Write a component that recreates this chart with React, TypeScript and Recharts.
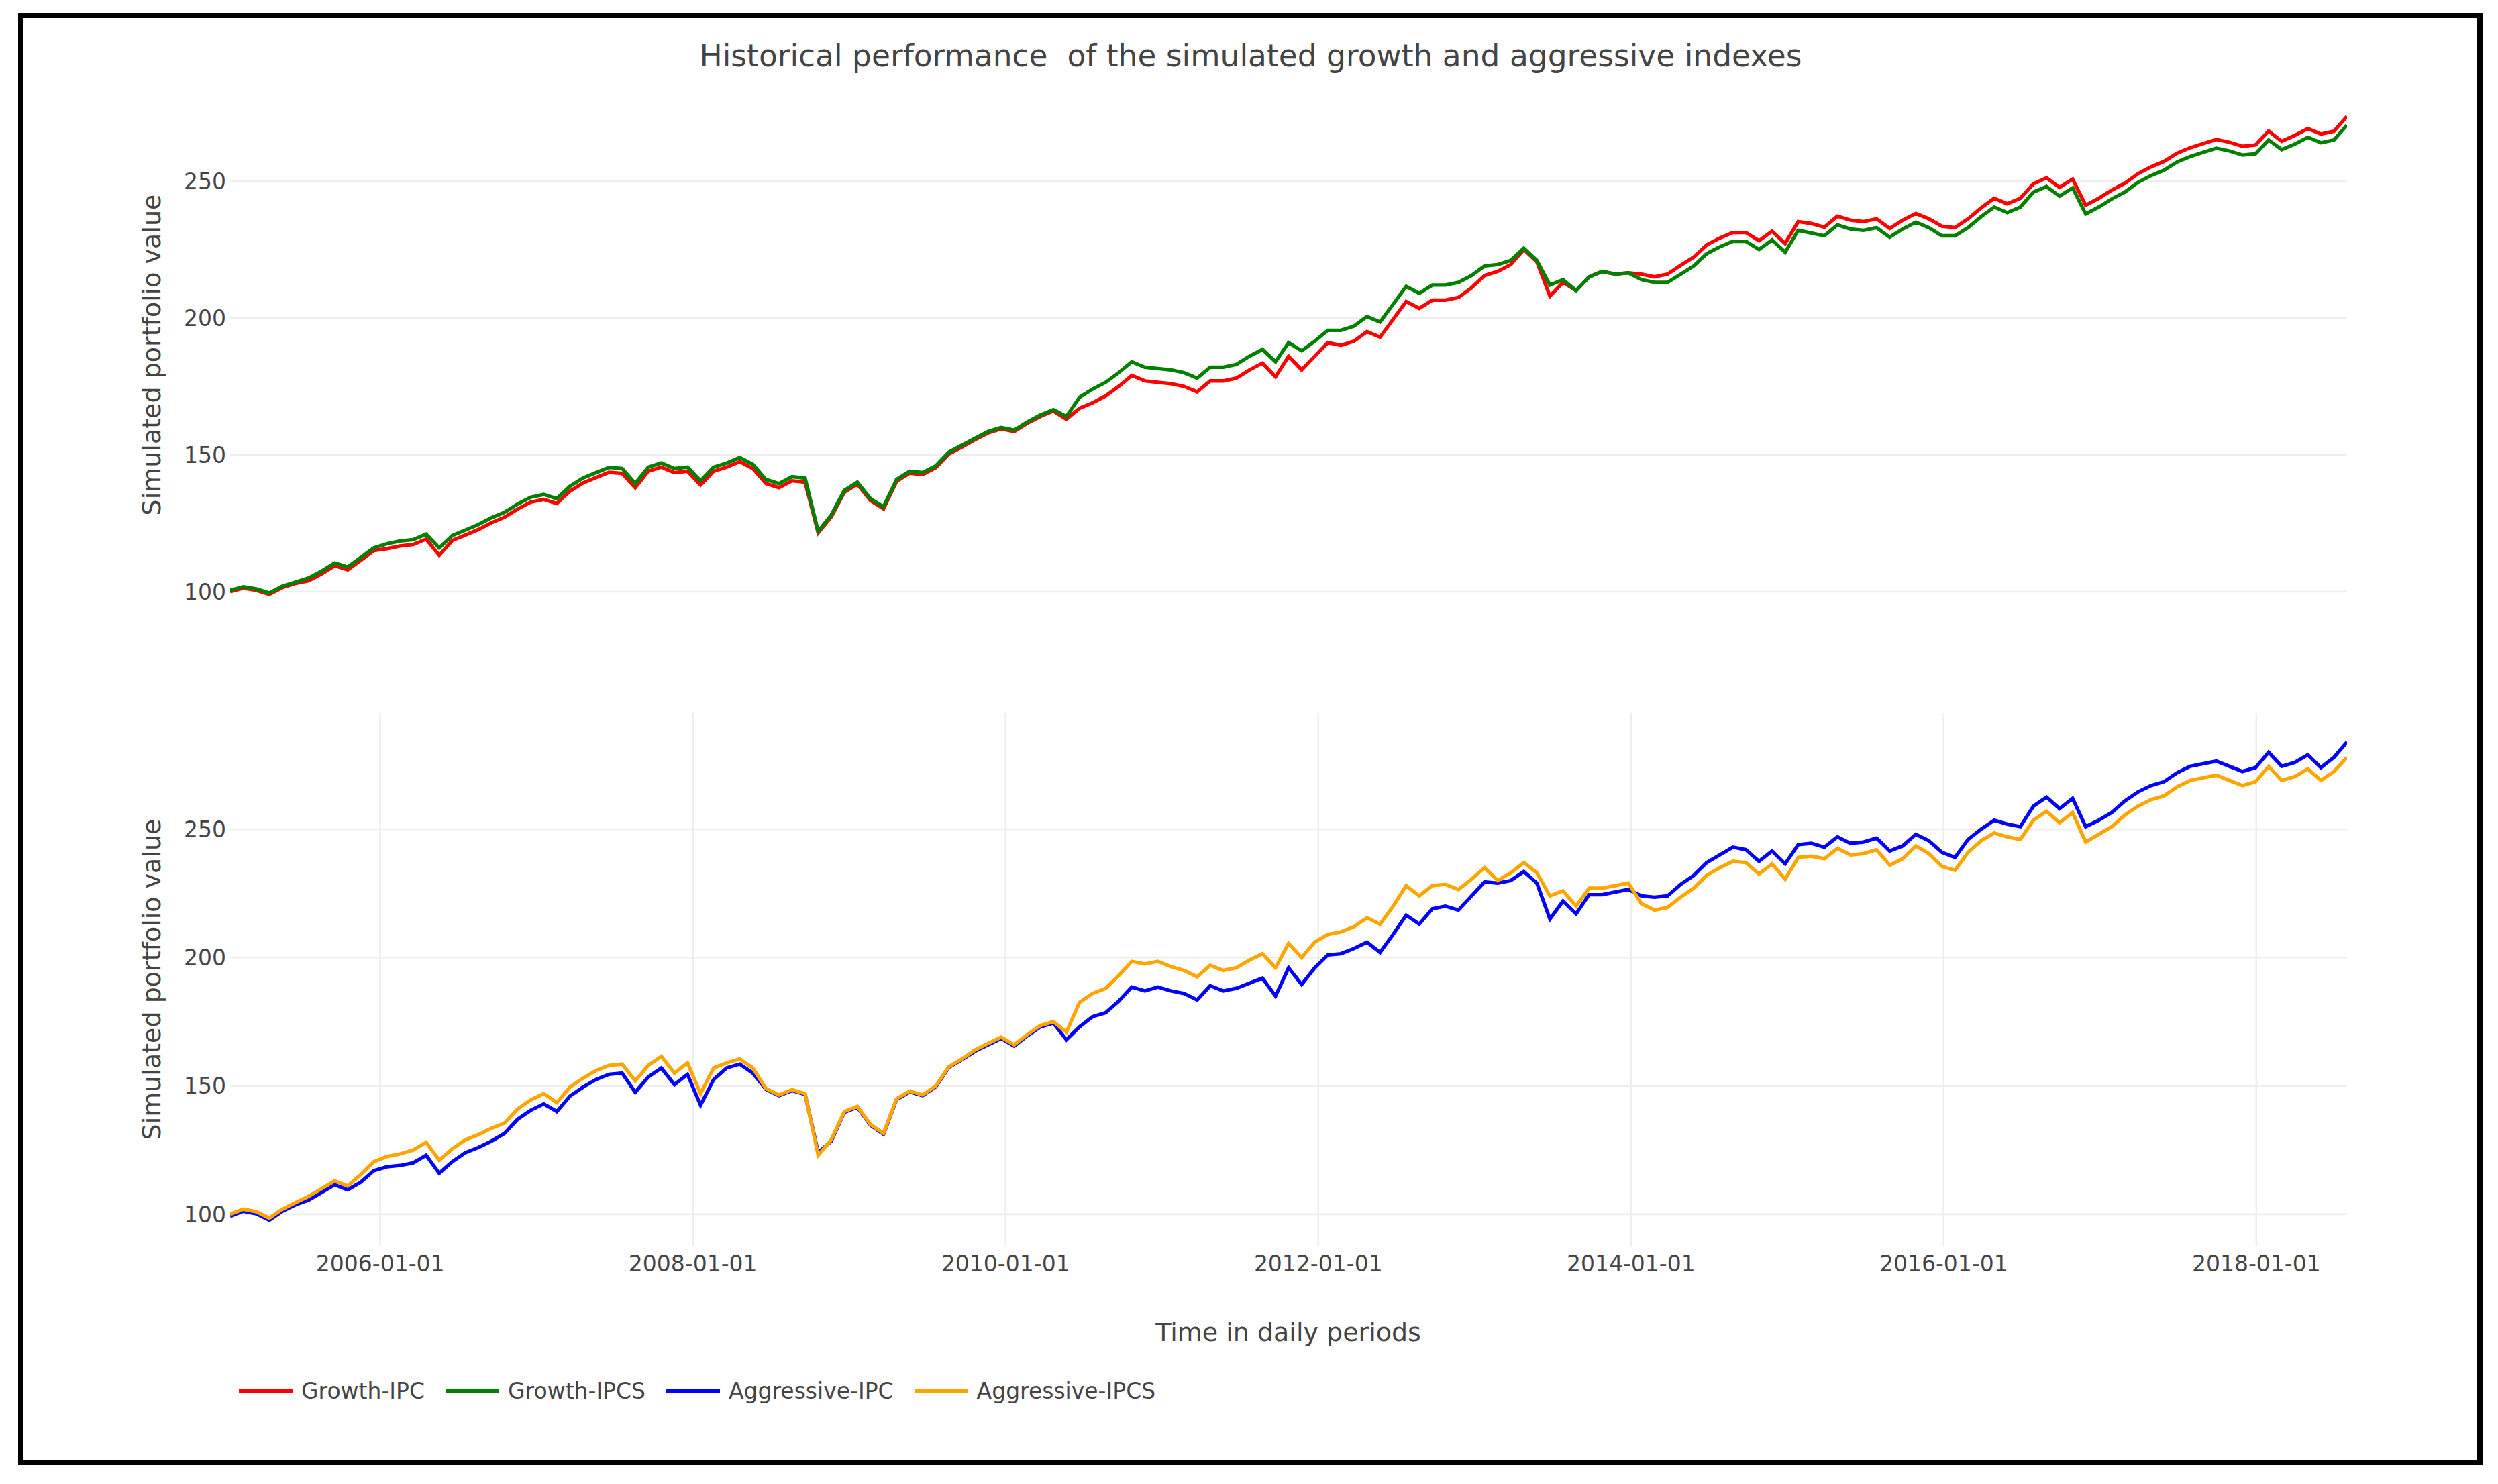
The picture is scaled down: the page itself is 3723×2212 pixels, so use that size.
import { LineChart, Line, XAxis, YAxis, CartesianGrid } from "recharts";

const FONT = "'DejaVu Sans', Verdana, sans-serif";
const TEXT = "#444";
const GRID = "#eeeeee";

// decimal years: 2005-01-15 .. 2018-07-31
const START = 2005.04;
const END = 2018.58;
const YEAR_TICKS = [2006, 2008, 2010, 2012, 2014, 2016, 2018];
const VALUE_TICKS = [100, 150, 200, 250];

// roughly monthly readings
const GROWTH_IPC = [
  100, 101.3, 100.5, 99, 101.5, 103, 104, 106.5, 109.5, 108,
  111.5, 115, 115.7, 116.7, 117.2, 119.2, 113.3, 118.7, 120.7, 122.7,
  125.2, 127.2, 130.2, 132.7, 133.7, 132.2, 136.7, 139.7, 141.7, 143.6,
  143.2, 138, 144, 145.5, 143.5, 144, 139, 144, 145.5, 147.5,
  145, 139.5, 138, 140.5, 140, 121.5, 127.3, 136.3, 139.3, 133.3,
  130.3, 140.3, 143.3, 142.8, 145.3, 150.3, 152.8, 155.5, 158, 159.5,
  158.5, 161.5, 164, 166, 163, 167, 169, 171.5, 175, 179,
  177, 176.5, 176, 175, 173, 177, 177, 178, 181, 183.5,
  178.5, 186, 181, 186, 191, 190, 191.5, 195, 193, 199.5,
  206, 203.5, 206.5, 206.5, 207.5, 211, 215.5, 217, 219.5, 225,
  220.5, 208, 213, 210, 215, 217, 216, 216.5, 216, 215,
  216, 219.2, 222.2, 226.7, 229.2, 231.2, 231.2, 228.2, 231.7, 227.2,
  235.2, 234.5, 233.2, 237.2, 235.7, 235.2, 236.2, 232.7, 235.7, 238.2,
  236.2, 233.5, 233, 236.2, 240.2, 243.7, 241.7, 243.7, 249, 251.2,
  247.7, 250.7, 241.2, 243.7, 246.7, 249.2, 252.7, 255.2, 257.2, 260.2,
  262.2, 263.7, 265.2, 264.2, 262.7, 263.2, 268.3, 264.5, 266.7, 269.2,
  267.2, 268.2, 273.7,
];

const GROWTH_IPCS = [
  100.5, 101.8, 101, 99.5, 102, 103.5, 105, 107.5, 110.5, 109,
  112.5, 116, 117.5, 118.5, 119, 121, 116, 120.5, 122.5, 124.5,
  127, 129, 132, 134.5, 135.5, 134, 138.5, 141.5, 143.5, 145.4,
  145, 139.5, 145.5, 147, 145, 145.5, 140.5, 145.5, 147, 149,
  146.5, 141, 139.5, 142, 141.5, 122, 128, 137, 140, 134,
  131, 141, 144, 143.5, 146, 151, 153.5, 156, 158.5, 160,
  159, 162, 164.5, 166.5, 164, 171, 174, 176.5, 180, 184,
  182, 181.5, 181, 180, 178, 182, 182, 183, 186, 188.5,
  184, 191, 188, 191.5, 195.5, 195.5, 197, 200.5, 198.5, 205,
  211.5, 209, 212, 212, 213, 215.5, 219, 219.5, 221, 225.5,
  221, 212, 214, 210, 215, 217, 216, 216.5, 214, 213,
  213, 216, 219, 223.5, 226, 228, 228, 225, 228.5, 224,
  232, 231, 230, 234, 232.5, 232, 233, 229.5, 232.5, 235,
  233, 230, 230, 233, 237, 240.5, 238.5, 240.5, 246, 248,
  244.5, 247.5, 238, 240.5, 243.5, 246, 249.5, 252, 254, 257,
  259, 260.5, 262, 261, 259.5, 260, 265, 261.5, 263.5, 266,
  264, 265, 270.5,
];

const AGGRESSIVE_IPC = [
  99.2, 101.2, 100.2, 97.7, 101.2, 103.7, 105.5, 108.5, 111.5, 109.5,
  112.5, 117, 118.5, 119, 120, 123, 116, 120.5, 124, 126,
  128.5, 131.5, 137, 140.5, 143, 140, 146, 149.5, 152.5, 154.5,
  155, 147.5, 153.5, 157, 150.5, 154.5, 142.5, 152.5, 157, 158.5,
  155, 148.7, 146.2, 148.2, 146.7, 124, 128.5, 139.7, 141.7, 134.7,
  131.2, 144.7, 147.7, 146.2, 149.7, 157.2, 160.2, 163.5, 166, 168.5,
  165.5, 169.5, 173, 174.5, 168, 173, 177, 178.5, 183, 188.5,
  187, 188.5, 187, 186, 183.5, 189, 187, 188, 190, 192,
  185, 196, 189.5, 196, 201, 201.5, 203.5, 206, 202, 209,
  216.5, 213, 219, 220, 218.5, 224, 229.5, 229, 230, 233.5,
  229, 215, 222, 217, 224.5, 224.5, 225.5, 226.5, 224, 223.5,
  224, 228.5, 232, 237, 240, 243, 242, 237.5, 241.5, 236.5,
  244, 244.5, 243, 247, 244.5, 245, 246.5, 241.5, 243.5, 248,
  245.5, 241, 239, 246, 250, 253.5, 252, 251, 259, 262.5,
  258, 262, 251, 253.5, 256.5, 261, 264.5, 267, 268.5, 272,
  274.5, 275.5, 276.5, 274.5, 272.5, 274, 280, 274.5, 276, 279,
  274, 278, 284,
];

const AGGRESSIVE_IPCS = [
  100, 102, 101, 98.5, 102, 104.5, 107, 110, 113, 111,
  115.5, 120.5, 122.5, 123.5, 125, 128, 121, 125.5, 129, 131,
  133.5, 135.5, 141, 144.5, 147, 143.5, 149.5, 153, 156, 158,
  158.5, 152, 158, 161.5, 155, 159, 147, 157, 159, 160.5,
  157, 149, 146.5, 148.5, 147, 123, 129, 140, 142, 135,
  131.5, 145, 148, 146.5, 150, 157.5, 160.5, 164, 166.5, 169,
  166, 170, 173.5, 175, 171, 182.5, 186, 188, 193, 198.5,
  197.5, 198.5, 196.5, 195, 192.5, 197, 195, 196, 199, 201.5,
  196, 205.5, 200, 206, 209, 210, 212, 215.5, 213, 220,
  228, 224, 228, 228.5, 226.5, 230.5, 235, 230, 233, 237,
  233, 224, 226, 220, 227, 227, 228, 229, 221, 218.5,
  219.5, 223.5, 227, 232, 235, 237.5, 237, 232.5, 236.5, 230.5,
  239, 239.5, 238.5, 242.5, 240, 240.5, 242, 236, 238.5, 243.5,
  240.5, 235.5, 234, 241, 245.5, 248.5, 247, 246, 253.5, 257,
  252.5, 256.5, 245, 248, 251, 255.5, 259, 261.5, 263, 266.5,
  269, 270, 271, 269, 267, 268.5, 274.5, 269, 270.5, 273.5,
  269, 272.5, 278,
];

const STEP = (END - START) / (GROWTH_IPC.length - 1);
const TIME = GROWTH_IPC.map((_, i) => START + i * STEP);

const SERIES = [
  { key: "gIpc", name: "Growth-IPC", color: "#ff0000", values: GROWTH_IPC },
  { key: "gIpcs", name: "Growth-IPCS", color: "#008000", values: GROWTH_IPCS },
  { key: "aIpc", name: "Aggressive-IPC", color: "#0000ff", values: AGGRESSIVE_IPC },
  { key: "aIpcs", name: "Aggressive-IPCS", color: "#ffa500", values: AGGRESSIVE_IPCS },
];

const buildRows = (keys: string[]) =>
  TIME.map((t, i) => {
    const row: Record<string, number> = { t };
    for (const s of SERIES) if (keys.includes(s.key)) row[s.key] = s.values[i];
    return row;
  });

const TOP_ROWS = buildRows(["gIpc", "gIpcs"]);
const BOTTOM_ROWS = buildRows(["aIpc", "aIpcs"]);

interface PanelProps {
  rows: Record<string, number>[];
  keys: string[];
  domain: [number, number];
  top: number;
  height: number;
  marginTop: number;
  marginBottom: number;
  showDates: boolean;
}

function Panel({ rows, keys, domain, top, height, marginTop, marginBottom, showDates }: PanelProps) {
  const tickStyle = { fill: TEXT, fontSize: 33, fontFamily: FONT };
  return (
    <div style={{ position: "absolute", left: 0, top }}>
      <LineChart
        width={3723}
        height={height}
        data={rows}
        margin={{ top: marginTop, right: 225, bottom: marginBottom, left: 243 }}
      >
        <CartesianGrid stroke={GRID} strokeWidth={2.66} syncWithTicks />
        <XAxis
          dataKey="t"
          type="number"
          domain={[START, END]}
          ticks={YEAR_TICKS}
          interval={0}
          allowDataOverflow
          axisLine={false}
          tickLine={false}
          tickSize={0}
          tickMargin={15}
          height={showDates ? 60 : 4}
          tick={showDates ? tickStyle : false}
          tickFormatter={(v) => `${v}-01-01`}
        />
        <YAxis
          type="number"
          domain={domain}
          ticks={VALUE_TICKS}
          interval={0}
          allowDataOverflow
          axisLine={false}
          tickLine={false}
          tickSize={0}
          tickMargin={6}
          width={100}
          tick={tickStyle}
        />
        {SERIES.filter((s) => keys.includes(s.key)).map((s) => (
          <Line
            key={s.key}
            dataKey={s.key}
            name={s.name}
            type="linear"
            stroke={s.color}
            strokeWidth={5.3}
            dot={false}
            activeDot={false}
            isAnimationActive={false}
          />
        ))}
      </LineChart>
    </div>
  );
}

const centered = (x: number, y: number, size: number, extra = ""): React.CSSProperties => ({
  position: "absolute",
  left: x,
  top: y,
  transform: `translate(-50%, -50%) ${extra}`,
  fontFamily: FONT,
  fontSize: size,
  color: TEXT,
  lineHeight: 1,
  whiteSpace: "pre",
});

export default function App() {
  return (
    <div style={{ position: "relative", width: 3723, height: 2212, background: "#fff", overflow: "hidden" }}>
      <style>{"body{margin:0}"}</style>
      <div
        style={{
          position: "absolute",
          left: 27,
          top: 19,
          width: 3673,
          height: 2165,
          border: "8px solid #000",
          boxSizing: "border-box",
        }}
      />
      <div style={centered(1864, 84, 45.5)}>Historical performance  of the simulated growth and aggressive indexes</div>

      <Panel
        rows={TOP_ROWS}
        keys={["gIpc", "gIpcs"]}
        domain={[89.2, 283.8]}
        top={0}
        height={960}
        marginTop={132}
        marginBottom={30}
        showDates={false}
      />
      <Panel
        rows={BOTTOM_ROWS}
        keys={["aIpc", "aIpcs"]}
        domain={[87.7, 295.2]}
        top={1000}
        height={1000}
        marginTop={63}
        marginBottom={83}
        showDates
      />

      <div style={centered(226, 529, 38, "rotate(-90deg)")}>Simulated portfolio value</div>
      <div style={centered(226, 1460, 38, "rotate(-90deg)")}>Simulated portfolio value</div>
      <div style={centered(1920, 1986, 38)}>Time in daily periods</div>

      <div
        style={{
          position: "absolute",
          left: 343,
          top: 2073,
          transform: "translateY(-50%)",
          display: "flex",
          alignItems: "center",
          fontFamily: FONT,
          fontSize: 33,
          color: TEXT,
          lineHeight: 1,
        }}
      >
        {SERIES.map((s) => (
          <div key={s.key} style={{ display: "flex", alignItems: "center", marginRight: 18 }}>
            <svg width={80} height={8} style={{ marginLeft: 13 }}>
              <line x1={0} y1={4} x2={80} y2={4} stroke={s.color} strokeWidth={5.3} />
            </svg>
            <span style={{ marginLeft: 13, whiteSpace: "nowrap" }}>{s.name}</span>
          </div>
        ))}
      </div>
    </div>
  );
}
